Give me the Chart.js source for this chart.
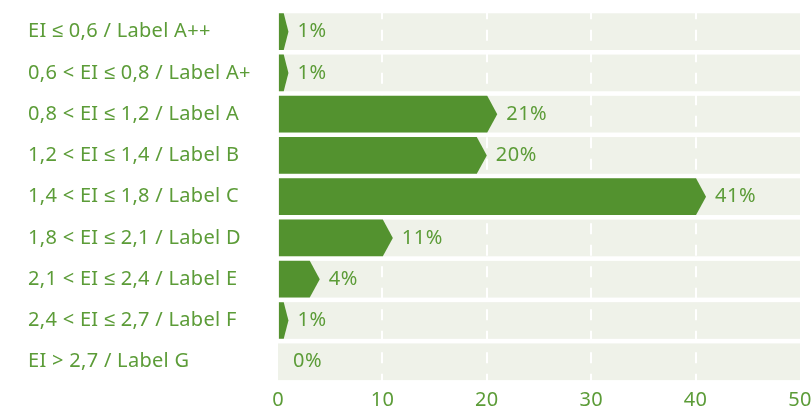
<!DOCTYPE html>
<html>
<head>
<meta charset="utf-8">
<script src="https://cdn.jsdelivr.net/npm/chart.js@4/dist/chart.umd.min.js"></script>
<style>
  html, body { margin: 0; padding: 0; background: #fff; }
  #wrap { width: 812px; height: 406px; }
</style>
</head>
<body>
<div id="wrap"><canvas id="grafico"></canvas></div>
<script>
// Klassen und Anteile (%)
const categories = [
  "EI ≤ 0,6 / Label A++",
  "0,6 < EI ≤ 0,8 / Label A+",
  "0,8 < EI ≤ 1,2 / Label A",
  "1,2 < EI ≤ 1,4 / Label B",
  "1,4 < EI ≤ 1,8 / Label C",
  "1,8 < EI ≤ 2,1 / Label D",
  "2,1 < EI ≤ 2,4 / Label E",
  "2,4 < EI ≤ 2,7 / Label F",
  "EI > 2,7 / Label G"
];
const shares = [1, 1, 21, 20, 41, 11, 4, 1, 0];
const xTicks = [0, 10, 20, 30, 40, 50];

const GREEN = "#53922f";
const TEXT = "#5c9c38";
const BAND = "#eff2e9";
const FONT = "'Noto Sans', sans-serif";
const SIZE = 20;

// helle Hintergrundstreifen hinter jeder Zeile (vor dem Gitter)
const bands = {
  id: "bands",
  beforeDraw(chart) {
    const { ctx, chartArea } = chart;
    ctx.letterSpacing = "0.3px";
    const meta = chart.getDatasetMeta(0);
    ctx.save();
    ctx.fillStyle = BAND;
    meta.data.forEach(el => {
      ctx.fillRect(chartArea.left, el.y - el.height / 2, chartArea.right - chartArea.left, el.height);
    });
    ctx.restore();
  }
};

// Balken als Pfeile + Prozentwerte
const arrows = {
  id: "arrows",
  afterDatasetsDraw(chart) {
    const { ctx } = chart;
    const meta = chart.getDatasetMeta(0);
    ctx.save();
    meta.data.forEach((el, i) => {
      const top = el.y - el.height / 2;
      const bottom = el.y + el.height / 2;
      const len = el.x - el.base;
      if (len > 0.5) {
        const tip = Math.min(10, len / 2);
        ctx.fillStyle = GREEN;
        ctx.beginPath();
        ctx.moveTo(el.base, top);
        ctx.lineTo(el.x - tip, top);
        ctx.lineTo(el.x, el.y);
        ctx.lineTo(el.x - tip, bottom);
        ctx.lineTo(el.base, bottom);
        ctx.closePath();
        ctx.fill();
      }
      ctx.fillStyle = TEXT;
      ctx.font = SIZE + "px " + FONT;
      ctx.letterSpacing = "0.5px";
      ctx.textBaseline = "middle";
      ctx.textAlign = "left";
      const x = len > 0.5 ? el.x + 9 : el.base + 15;
      ctx.fillText(shares[i] + "%", x, el.y);
    });
    ctx.restore();
  }
};

new Chart(document.getElementById("grafico"), {
  type: "bar",
  data: {
    labels: categories,
    datasets: [{
      data: shares,
      backgroundColor: "rgba(0,0,0,0)",
      barPercentage: 1,
      categoryPercentage: 0.89
    }]
  },
  options: {
    indexAxis: "y",
    responsive: true,
    maintainAspectRatio: false,
    animation: false,
    layout: { padding: { left: 28, top: 11, right: 12, bottom: 0 } },
    plugins: {
      legend: { display: false },
      tooltip: { enabled: false }
    },
    scales: {
      x: {
        min: 0,
        max: 50,
        afterBuildTicks(scale) {
          scale.ticks = xTicks.map(v => ({ value: v }));
        },
        afterFit(scale) {
          scale.height = 23.6;
          scale.paddingRight = 0;
          scale.paddingLeft = 0;
        },
        border: { display: false, dash: [11, 10.5], dashOffset: 2.7 },
        grid: {
          drawTicks: false,
          color: c => (c.tick && (c.tick.value === 0 || c.tick.value === 50)) ? "rgba(0,0,0,0)" : "#ffffff",
          lineWidth: 2
        },
        ticks: {
          color: TEXT,
          font: { family: FONT, size: SIZE },
          padding: 6
        }
      },
      y: {
        border: { display: false },
        grid: { display: false, drawTicks: false },
        afterFit(scale) {
          scale.width = 250;
          scale.paddingTop = 0;
          scale.paddingBottom = 0;
        },
        ticks: {
          crossAlign: "far",
          color: TEXT,
          font: { family: FONT, size: SIZE }
        }
      }
    }
  },
  plugins: [bands, arrows]
});
</script>
</body>
</html>
